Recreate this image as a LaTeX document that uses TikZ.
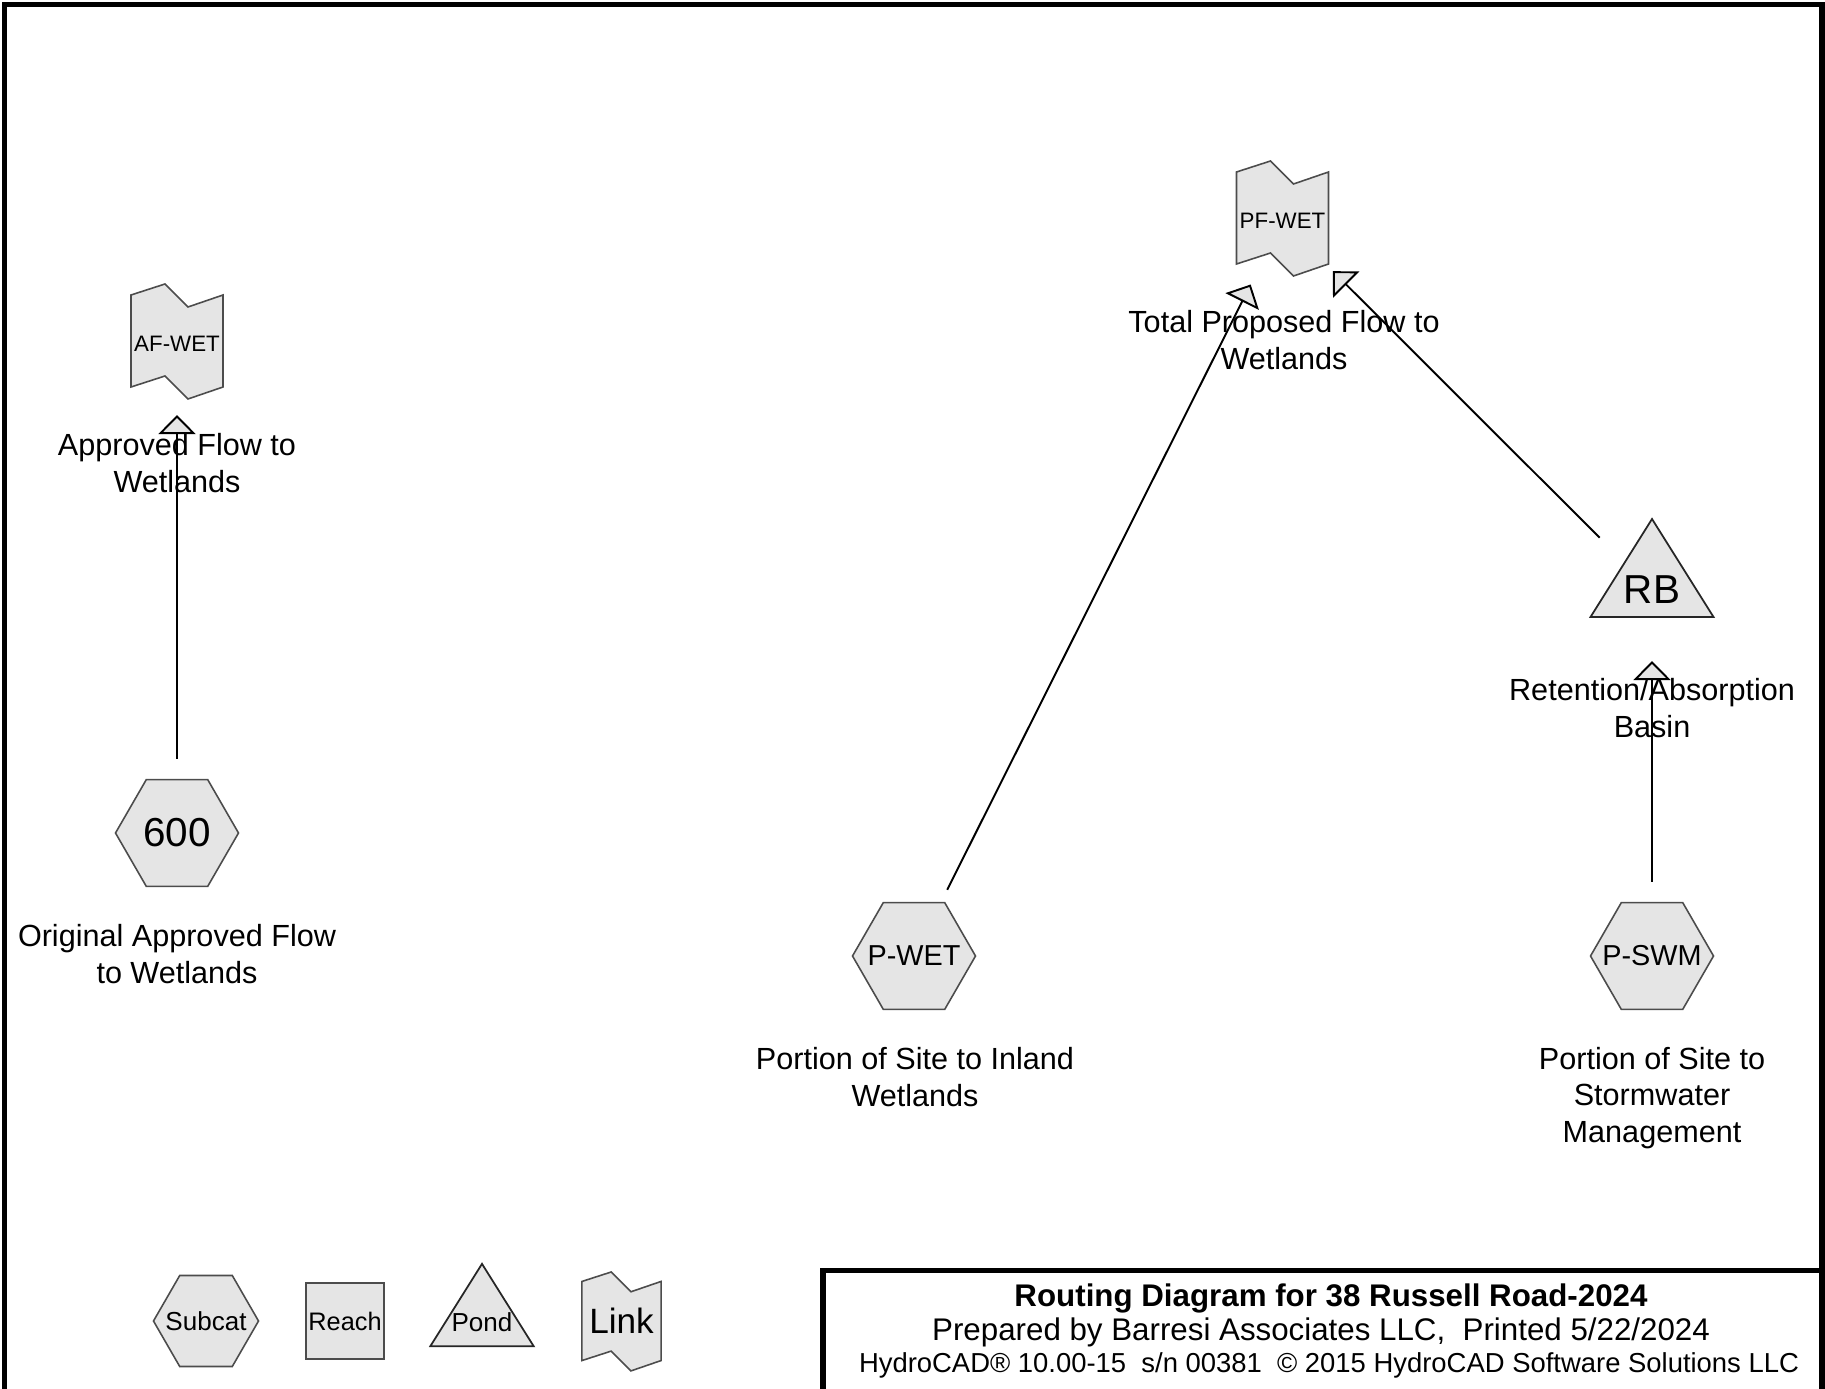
\documentclass[tikz,border=0pt]{standalone}
\usepackage{fontspec}
\setmainfont{Liberation Sans}
\usetikzlibrary{positioning,shapes.geometric,arrows.meta}

\tikzset{
  reach/.style={draw=black!70, fill=black!10, line width=0.45pt, rectangle, minimum width=0.78cm, minimum height=0.76cm, inner sep=0pt},
  shapetext/.style={inner sep=0pt},
  lbl/.style={align=center, inner sep=0pt, font=\fontsize{8.7}{10.4}\selectfont},
  flow/.style={line width=0.55pt, -{Triangle[length=1.9mm, width=3.7mm, fill=black!10]}, shorten <=7.4mm, shorten >=7.1mm},
  pics/hexa/.style={code={
      \draw[draw=black!70, fill=black!10, line width=0.45pt] (-61.5,0) -- (-30.75,-53.3) -- (30.75,-53.3) -- (61.5,0) -- (30.75,53.3) -- (-30.75,53.3) -- cycle;
    }},
  pics/linkflag/.style={code={
      \draw[draw=black!70, fill=black!10, line width=0.45pt] (-46,-46) -- (-12,-57) -- (11,-34) -- (46,-46) -- (46,46) -- (11,58) -- (-12,35) -- (-46,46) -- cycle;
    }},
  pics/pondtri/.style={code={
      \draw[draw=black!85, fill=black!10, line width=0.5pt] (0,-71) -- (61.5,27) -- (-61.5,27) -- cycle;
    }},
}

\begin{document}
\begin{tikzpicture}[x=0.01cm, y=-0.01cm]
        \useasboundingbox (0,0) rectangle (1825,1389);

        % Frame and title block
        \draw[line width=1.6pt] (4.5,1389) -- (4.5,4.5) -- (1822,4.5) -- (1822,1389);
        \draw[line width=1.7pt] (823,1389) -- (823,1270.5) -- (1822,1270.5);
        \node[anchor=base, inner sep=0pt, font=\fontsize{8.9}{10}\selectfont\bfseries] (title1) at (1331,1306) {Routing Diagram for 38 Russell Road-2024};
        \node[anchor=base, inner sep=0pt, font=\fontsize{8.9}{10}\selectfont] (title2) at (1321,1340) {Prepared by Barresi Associates LLC,\ \ Printed 5/22/2024};
        \node[anchor=base, inner sep=0pt, font=\fontsize{7.8}{9}\selectfont] (title3) at (1329,1372) {HydroCAD® 10.00-15\ \ s/n 00381\ \ © 2015 HydroCAD Software Solutions LLC};

        % Link nodes
        \pic at (177,341) {linkflag};
        \node[shapetext, font=\fontsize{6.35}{7}\selectfont] (afwet) at (177,344) {AF-WET};
        \pic at (1282.5,218) {linkflag};
        \node[shapetext, font=\fontsize{6.35}{7}\selectfont] (pfwet) at (1282.5,221) {PF-WET};

        % Pond node
        \pic at (1652,590) {pondtri};
        \node[shapetext, font=\fontsize{11.5}{12}\selectfont] (rb) at (1652,590) {RB};

        % Subcatchment nodes
        \pic at (177,833) {hexa};
        \node[shapetext, font=\fontsize{11.5}{12}\selectfont] (n600) at (177,833) {600};
        \pic at (914,956) {hexa};
        \node[shapetext, font=\fontsize{8.2}{9}\selectfont] (pwet) at (914,956) {P-WET};
        \pic at (1652,956) {hexa};
        \node[shapetext, font=\fontsize{8.2}{9}\selectfont] (pswm) at (1652,956) {P-SWM};

        % Labels
        \node[lbl] (afwetlbl) at (177,463) {Approved Flow to\\Wetlands};
        \node[lbl] (pfwetlbl) at (1284,340) {Total Proposed Flow to\\Wetlands};
        \node[lbl] (rblbl) at (1652,708) {Retention/Absorption\\Basin};
        \node[lbl] (n600lbl) at (177,954) {Original Approved Flow\\to Wetlands};
        \node[lbl] (pwetlbl) at (915,1077) {Portion of Site to Inland\\Wetlands};
        \node[lbl] (pswmlbl) at (1652,1098) {Portion of Site to\\Stormwater\\Management};

        % Arrows
        \draw[flow] (n600.center) -- (afwet.center);
        \draw[flow] (pwet.center) -- (pfwet.center);
        \draw[flow] (rb.center) -- (pfwet.center);
        \draw[flow] (pswm.center) -- (rb.center);

        % Legend
        \pic[scale=0.854] at (206,1321) {hexa};
        \node[shapetext, font=\fontsize{7.4}{8}\selectfont] (legsubcat) at (206,1321) {Subcat};
        \node[reach, font=\fontsize{7.2}{8}\selectfont] (legreach) at (345,1321) {Reach};
        \pic[scale=0.84] at (482,1323.5) {pondtri};
        \node[shapetext, font=\fontsize{7.4}{8}\selectfont] (legpond) at (482,1322) {Pond};
        \pic[scale=0.86] at (621.5,1321) {linkflag};
        \node[shapetext, font=\fontsize{10}{11}\selectfont] (leglink) at (621.5,1321) {Link};
\end{tikzpicture}
\end{document}
